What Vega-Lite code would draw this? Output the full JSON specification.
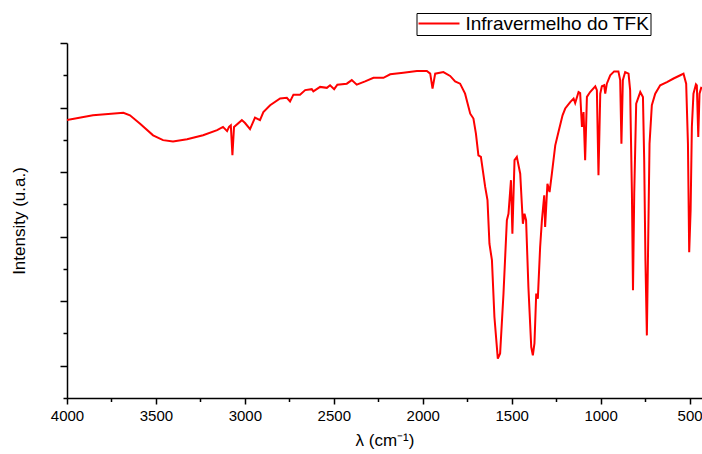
{
  "$schema": "https://vega.github.io/schema/vega-lite/v6.json",
  "width": 635,
  "height": 355,
  "autosize": {"type": "none"},
  "padding": {"left": 67, "top": 43, "right": 0, "bottom": 56},
  "background": "white",
  "config": {
    "view": {"stroke": null},
    "axis": {
      "domainColor": "black", "domainWidth": 1.5,
      "tickColor": "black", "tickWidth": 1.5,
      "grid": false,
      "labelFont": "Liberation Sans", "labelFontSize": 15, "labelColor": "black",
      "titleFont": "Liberation Sans", "titleFontSize": 17, "titleFontWeight": "normal", "titleColor": "black"
    }
  },
  "data": {"values": [
    {"wn": 4000, "y": 8.61}, {"wn": 3854, "y": 8.76}, {"wn": 3683, "y": 8.84}, {"wn": 3646, "y": 8.76},
    {"wn": 3589, "y": 8.50}, {"wn": 3516, "y": 8.14}, {"wn": 3460, "y": 7.99}, {"wn": 3404, "y": 7.95},
    {"wn": 3325, "y": 8.02}, {"wn": 3235, "y": 8.14}, {"wn": 3156, "y": 8.30}, {"wn": 3123, "y": 8.40},
    {"wn": 3100, "y": 8.27}, {"wn": 3089, "y": 8.40}, {"wn": 3079, "y": 8.45}, {"wn": 3070, "y": 7.52},
    {"wn": 3061, "y": 8.40}, {"wn": 3017, "y": 8.61}, {"wn": 2999, "y": 8.52}, {"wn": 2971, "y": 8.33},
    {"wn": 2943, "y": 8.69}, {"wn": 2915, "y": 8.61}, {"wn": 2896, "y": 8.86}, {"wn": 2858, "y": 9.07},
    {"wn": 2802, "y": 9.28}, {"wn": 2764, "y": 9.30}, {"wn": 2746, "y": 9.19}, {"wn": 2727, "y": 9.40},
    {"wn": 2690, "y": 9.40}, {"wn": 2661, "y": 9.54}, {"wn": 2624, "y": 9.57}, {"wn": 2615, "y": 9.50},
    {"wn": 2577, "y": 9.64}, {"wn": 2539, "y": 9.61}, {"wn": 2521, "y": 9.69}, {"wn": 2498, "y": 9.57},
    {"wn": 2480, "y": 9.71}, {"wn": 2427, "y": 9.74}, {"wn": 2399, "y": 9.85}, {"wn": 2371, "y": 9.71},
    {"wn": 2324, "y": 9.81}, {"wn": 2277, "y": 9.92}, {"wn": 2221, "y": 9.92}, {"wn": 2183, "y": 10.03},
    {"wn": 2109, "y": 10.08}, {"wn": 2033, "y": 10.13}, {"wn": 1977, "y": 10.13}, {"wn": 1958, "y": 10.05},
    {"wn": 1945, "y": 9.59}, {"wn": 1930, "y": 10.05}, {"wn": 1884, "y": 10.10}, {"wn": 1846, "y": 9.98},
    {"wn": 1818, "y": 9.81}, {"wn": 1790, "y": 9.74}, {"wn": 1762, "y": 9.43}, {"wn": 1733, "y": 8.81},
    {"wn": 1715, "y": 8.66}, {"wn": 1701, "y": 8.19}, {"wn": 1687, "y": 7.52}, {"wn": 1673, "y": 7.47},
    {"wn": 1649, "y": 6.54}, {"wn": 1636, "y": 6.13}, {"wn": 1625, "y": 4.78}, {"wn": 1611, "y": 4.27},
    {"wn": 1597, "y": 2.51}, {"wn": 1578, "y": 1.22}, {"wn": 1565, "y": 1.38}, {"wn": 1546, "y": 3.24},
    {"wn": 1527, "y": 5.51}, {"wn": 1518, "y": 5.71}, {"wn": 1504, "y": 6.75}, {"wn": 1496, "y": 5.09},
    {"wn": 1484, "y": 7.37}, {"wn": 1471, "y": 7.47}, {"wn": 1452, "y": 6.95}, {"wn": 1443, "y": 6.02},
    {"wn": 1437, "y": 5.40}, {"wn": 1428, "y": 5.71}, {"wn": 1419, "y": 5.51}, {"wn": 1406, "y": 3.44},
    {"wn": 1390, "y": 1.58}, {"wn": 1381, "y": 1.32}, {"wn": 1372, "y": 1.69}, {"wn": 1362, "y": 3.24},
    {"wn": 1353, "y": 3.08}, {"wn": 1340, "y": 4.68}, {"wn": 1330, "y": 5.51}, {"wn": 1317, "y": 6.28},
    {"wn": 1312, "y": 5.30}, {"wn": 1299, "y": 6.64}, {"wn": 1287, "y": 6.38}, {"wn": 1274, "y": 6.95},
    {"wn": 1255, "y": 7.83}, {"wn": 1237, "y": 8.24}, {"wn": 1214, "y": 8.76}, {"wn": 1199, "y": 8.97},
    {"wn": 1171, "y": 9.17}, {"wn": 1152, "y": 9.28}, {"wn": 1143, "y": 9.14}, {"wn": 1124, "y": 9.48},
    {"wn": 1115, "y": 9.45}, {"wn": 1105, "y": 8.40}, {"wn": 1096, "y": 8.86}, {"wn": 1087, "y": 7.37},
    {"wn": 1077, "y": 9.33}, {"wn": 1059, "y": 9.48}, {"wn": 1030, "y": 9.66}, {"wn": 1021, "y": 9.54},
    {"wn": 1012, "y": 6.90}, {"wn": 1002, "y": 9.43}, {"wn": 993, "y": 9.66}, {"wn": 980, "y": 9.69},
    {"wn": 974, "y": 9.43}, {"wn": 965, "y": 9.74}, {"wn": 946, "y": 10.00}, {"wn": 924, "y": 10.12},
    {"wn": 900, "y": 10.12}, {"wn": 890, "y": 9.85}, {"wn": 883, "y": 7.88}, {"wn": 875, "y": 9.85},
    {"wn": 862, "y": 10.10}, {"wn": 843, "y": 10.05}, {"wn": 834, "y": 9.54}, {"wn": 824, "y": 6.33},
    {"wn": 818, "y": 3.34}, {"wn": 811, "y": 6.33}, {"wn": 800, "y": 9.12}, {"wn": 777, "y": 9.48},
    {"wn": 762, "y": 9.33}, {"wn": 755, "y": 7.37}, {"wn": 748, "y": 4.27}, {"wn": 740, "y": 1.94},
    {"wn": 734, "y": 4.27}, {"wn": 725, "y": 7.88}, {"wn": 712, "y": 9.07}, {"wn": 693, "y": 9.43},
    {"wn": 665, "y": 9.69}, {"wn": 627, "y": 9.79}, {"wn": 590, "y": 9.90}, {"wn": 552, "y": 10.00},
    {"wn": 534, "y": 10.05}, {"wn": 519, "y": 9.74}, {"wn": 509, "y": 7.88}, {"wn": 502, "y": 4.52},
    {"wn": 494, "y": 5.82}, {"wn": 487, "y": 8.40}, {"wn": 478, "y": 9.43}, {"wn": 464, "y": 9.72},
    {"wn": 459, "y": 9.69}, {"wn": 451, "y": 8.09}, {"wn": 444, "y": 9.43}, {"wn": 433, "y": 9.64}
  ]},
  "mark": {"type": "line", "strokeWidth": 2, "clip": true},
  "encoding": {
    "x": {
      "field": "wn", "type": "quantitative", "sort": null,
      "scale": {"domain": [430, 4000], "reverse": true, "nice": false, "zero": false},
      "axis": {
        "title": "λ (cm⁻¹)",
        "values": [500, 750, 1000, 1250, 1500, 1750, 2000, 2250, 2500, 2750, 3000, 3250, 3500, 3750, 4000],
        "format": "d",
        "labelExpr": "datum.value % 500 === 0 ? datum.label : ''",
        "labelFlush": false, "labelOverlap": false,
        "labelPadding": 4,
        "tickSize": {"condition": {"test": "datum.value % 500 === 0", "value": 6}, "value": 3.5},
        "titlePadding": 9
      }
    },
    "y": {
      "field": "y", "type": "quantitative",
      "scale": {"domain": [0, 11], "nice": false, "zero": false},
      "axis": {
        "title": "Intensity (u.a.)",
        "values": [0, 1, 2, 3, 4, 5, 6, 7, 8, 9, 10, 11],
        "labels": false,
        "tickSize": {"condition": {"test": "datum.value % 2 === 1", "value": 7}, "value": 4},
        "titlePadding": 31
      }
    },
    "order": {"field": "wn", "sort": "descending"},
    "color": {
      "datum": "Infravermelho do TFK",
      "scale": {"range": ["#ff0000"]},
      "legend": {
        "title": null,
        "orient": "none", "legendX": 349.5, "legendY": -30,
        "strokeColor": "black", "fillColor": "white", "padding": 1,
        "symbolType": "stroke", "symbolSize": 1681, "symbolStrokeWidth": 2,
        "clipHeight": 19,
        "labelFont": "Liberation Sans", "labelFontSize": 19, "labelColor": "black", "labelOffset": 5,
        "labelLimit": 400
      }
    }
  }
}
